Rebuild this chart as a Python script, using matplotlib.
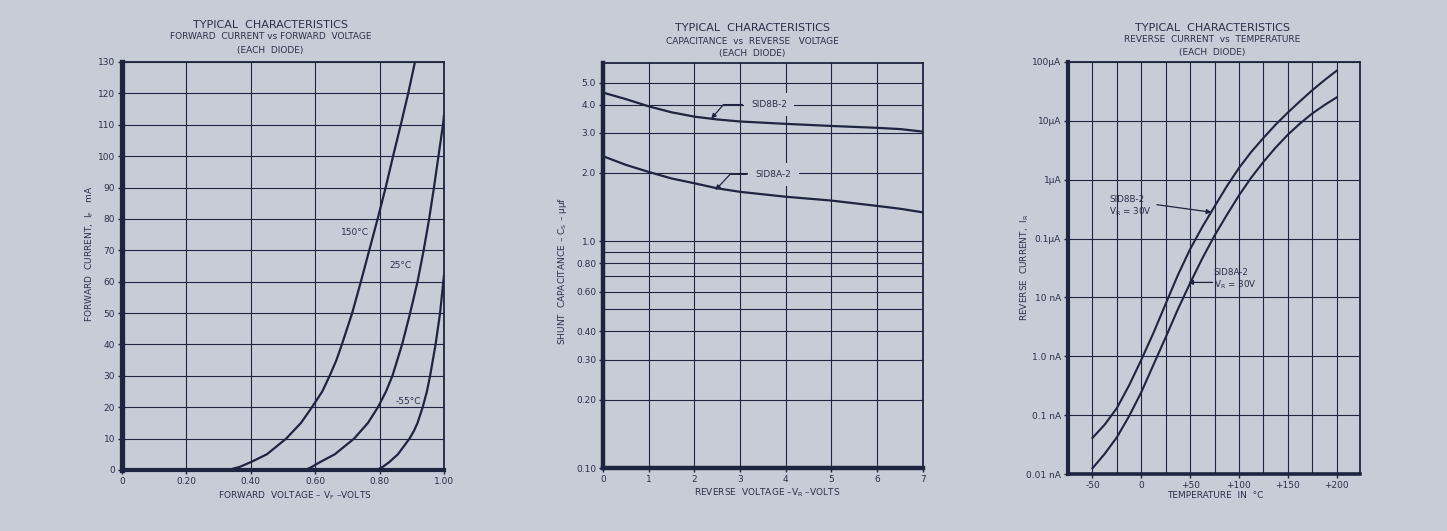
import matplotlib
matplotlib.use("Agg")
import matplotlib.pyplot as plt
from matplotlib.ticker import FixedLocator, NullLocator, NullFormatter


# DATA READ FROM THE SHEET
# DATA READ FROM THE SHEET

# forward current vs forward voltage (volts, mA)
v_150 = [0.33, 0.366, 0.40, 0.45, 0.51, 0.556, 0.59, 0.622, 0.645, 0.666, 0.683, 0.715, 0.742, 0.768, 0.794,
         0.819, 0.842, 0.866, 0.889, 0.91]
i_150 = [0, 1, 2.5, 5, 10, 15, 20, 25, 30, 35, 40, 50, 60, 70, 80, 90, 100, 110, 120, 130]
v_25 = [0.57, 0.59, 0.615, 0.661, 0.721, 0.764, 0.795, 0.82, 0.84, 0.87, 0.895, 0.918, 0.937, 0.954, 0.969,
        0.983, 0.997, 1.0]
i_25 = [0, 1, 2.5, 5, 10, 15, 20, 25, 30, 40, 50, 60, 70, 80, 90, 100, 110, 113]
v_m55 = [0.79, 0.81, 0.83, 0.857, 0.893, 0.907, 0.918, 0.934, 0.947, 0.957, 0.974, 0.988, 0.998, 1.0]
i_m55 = [0, 1, 2.5, 5, 10, 12.5, 15, 20, 25, 30, 40, 50, 60, 62]

fwd_xticks = [0, 0.2, 0.4, 0.6, 0.8, 1.0]
fwd_xlabels = ["0", "0.20", "0.40", "0.60", "0.80", "1.00"]
fwd_yticks = list(range(0, 131, 10))

# capacitance vs reverse voltage (volts, uuf)
cap_v = [0, 0.5, 1, 1.5, 2, 2.5, 3, 4, 5, 6, 6.5, 7]
cap_8b = [4.52, 4.23, 3.93, 3.70, 3.54, 3.44, 3.37, 3.29, 3.22, 3.16, 3.12, 3.04]
cap_8a = [2.37, 2.17, 2.02, 1.89, 1.80, 1.71, 1.65, 1.57, 1.51, 1.43, 1.39, 1.34]

cap_yticks = [0.1, 0.2, 0.3, 0.4, 0.6, 0.8, 1.0, 2.0, 3.0, 4.0, 5.0]
cap_ylabels = ["0.10", "0.20", "0.30", "0.40", "0.60", "0.80", "1.0", "2.0", "3.0", "4.0", "5.0"]
cap_minor = [0.5, 0.7, 0.9]

# reverse current vs temperature (deg C, amps)
temp = [-50, -37.5, -25, -12.5, 0, 12.5, 25, 37.5, 50, 62.5, 75, 87.5, 100, 112.5, 125, 137.5, 150, 162.5, 175, 187.5, 200]
ir_8b = [4.1e-11, 6.9e-11, 1.32e-10, 3.2e-10, 8.7e-10, 2.5e-9, 7.8e-9, 2.4e-8, 6.6e-8, 1.58e-7, 3.5e-7, 7.7e-7,
         1.58e-6, 2.95e-6, 5.1e-6, 8.6e-6, 1.38e-5, 2.15e-5, 3.3e-5, 4.9e-5, 7.1e-5]
ir_8a = [1.25e-11, 2.2e-11, 4.2e-11, 9.6e-11, 2.45e-10, 7.2e-10, 2.1e-9, 6.3e-9, 1.75e-8, 4.6e-8, 1.12e-7, 2.5e-7,
         5.4e-7, 1.08e-6, 2.0e-6, 3.5e-6, 5.8e-6, 9.0e-6, 1.33e-5, 1.85e-5, 2.5e-5]

temp_xticks = [-50, 0, 50, 100, 150, 200]
temp_xlabels = ["-50", "0", "+50", "+100", "+150", "+200"]
temp_grid = [-50, -25, 0, 25, 50, 75, 100, 125, 150, 175, 200]
ir_yticks = [1e-11, 1e-10, 1e-9, 1e-8, 1e-7, 1e-6, 1e-5, 1e-4]
ir_ylabels = ["0.01 nA", "0.1 nA", "1.0 nA", "10 nA", "0.1\u03bcA", "1\u03bcA", "10\u03bcA", "100\u03bcA"]


# STYLE
# STYLE

bg = "#c8ccd7"
ink = "#1f2440"
txt = "#2b304a"

plt.rcParams["font.family"] = ["DejaVu Sans"]
plt.rcParams["mathtext.default"] = "regular"

fig = plt.figure(figsize=(14.47, 5.31), dpi=100, facecolor=bg)


def frame(ax, thick_left=3.2, thick_bottom=3.0):
    ax.set_facecolor(bg)
    for side in ["top", "right"]:
        ax.spines[side].set_linewidth(1.3)
        ax.spines[side].set_color(ink)
    ax.spines["left"].set_linewidth(thick_left)
    ax.spines["bottom"].set_linewidth(thick_bottom)
    ax.spines["left"].set_color(ink)
    ax.spines["bottom"].set_color(ink)
    ax.tick_params(which="major", direction="out", length=3, width=1, color=ink,
                   labelsize=6.5, labelcolor=txt, pad=2)
    ax.tick_params(which="minor", length=0)
    ax.grid(True, which="both", color=ink, lw=0.8)
    ax.set_axisbelow(True)


def titles(xc, ys, sub):
    fig.text(xc, ys[0], "TYPICAL  CHARACTERISTICS", ha="center", va="center", fontsize=8, color=txt)
    fig.text(xc, ys[1], sub, ha="center", va="center", fontsize=6.5, color=txt)
    fig.text(xc, ys[2], "(EACH  DIODE)", ha="center", va="center", fontsize=6.5, color=txt)


# FORWARD CURRENT
# FORWARD CURRENT

ax1 = fig.add_axes([0.0843, 0.1149, 0.2225, 0.7684])
frame(ax1, 3.8, 3.0)
ax1.plot(v_150, i_150, color=ink, lw=1.6, solid_capstyle="round", solid_joinstyle="round")
ax1.plot(v_25, i_25, color=ink, lw=1.6, solid_capstyle="round", solid_joinstyle="round")
ax1.plot(v_m55, i_m55, color=ink, lw=1.6, solid_capstyle="round", solid_joinstyle="round")
ax1.set_xlim(0, 1.0)
ax1.set_ylim(0, 130)
ax1.set_xticks(fwd_xticks)
ax1.set_xticklabels(fwd_xlabels)
ax1.set_yticks(fwd_yticks)
ax1.text(0.724, 75.8, "150\u00b0C", ha="center", va="center", fontsize=6.5, color=txt)
ax1.text(0.865, 65, "25\u00b0C", ha="center", va="center", fontsize=6.5, color=txt)
ax1.text(0.890, 21.7, "-55\u00b0C", ha="center", va="center", fontsize=6.5, color=txt)
ax1.text(-0.099, 0.53, "FORWARD  CURRENT,  I$_F$   mA", transform=ax1.transAxes, rotation=90,
         ha="center", va="center", fontsize=6.5, color=txt)
ax1.text(0.537, -0.064, "FORWARD  VOLTAGE \u2013 V$_F$ \u2013VOLTS", transform=ax1.transAxes,
         ha="center", va="center", fontsize=6.5, color=txt)
titles(0.187, [0.953, 0.932, 0.904], "FORWARD  CURRENT vs FORWARD  VOLTAGE")


# CAPACITANCE
# CAPACITANCE

ax2 = fig.add_axes([0.4167, 0.1186, 0.2211, 0.7627])
ax2.set_yscale("log")
frame(ax2, 3.2, 3.2)
ax2.plot(cap_v, cap_8b, color=ink, lw=1.6, solid_joinstyle="round")
ax2.plot(cap_v, cap_8a, color=ink, lw=1.6, solid_joinstyle="round")
ax2.set_xlim(0, 7)
ax2.set_ylim(0.1, 6.1)
ax2.set_xticks(range(0, 8))
ax2.yaxis.set_major_locator(FixedLocator(cap_yticks))
ax2.yaxis.set_minor_locator(FixedLocator(cap_minor))
ax2.yaxis.set_minor_formatter(NullFormatter())
ax2.set_yticklabels(cap_ylabels)

box = dict(boxstyle="square,pad=0.8", fc=bg, ec="none")
ax2.annotate("SID8B-2", xy=(2.37, 3.47), xytext=(3.24, 4.0), ha="left", va="center",
             fontsize=6.5, color=txt, bbox=box,
             arrowprops=dict(arrowstyle="-|>", color=ink, lw=0.9, mutation_scale=7, shrinkA=1, shrinkB=0,
                             connectionstyle="angle,angleA=0,angleB=49,rad=0"))
ax2.annotate("SID8A-2", xy=(2.46, 1.68), xytext=(3.34, 1.97), ha="left", va="center",
             fontsize=6.5, color=txt, bbox=box,
             arrowprops=dict(arrowstyle="-|>", color=ink, lw=0.9, mutation_scale=7, shrinkA=1, shrinkB=0,
                             connectionstyle="angle,angleA=0,angleB=47,rad=0"))
ax2.text(-0.125, 0.486, "SHUNT  CAPACITANCE \u2013 C$_S$ \u2013 \u03bc\u03bcf", transform=ax2.transAxes,
         rotation=90, ha="center", va="center", fontsize=6.5, color=txt)
ax2.text(0.5125, -0.062, "REVERSE  VOLTAGE \u2013V$_R$ \u2013VOLTS", transform=ax2.transAxes,
         ha="center", va="center", fontsize=6.5, color=txt)
titles(0.52, [0.947, 0.921, 0.900], "CAPACITANCE  vs  REVERSE   VOLTAGE")


# REVERSE CURRENT
# REVERSE CURRENT

ax3 = fig.add_axes([0.7381, 0.1073, 0.2018, 0.776])
ax3.set_yscale("log")
frame(ax3, 3.0, 2.6)
ax3.plot(temp, ir_8b, color=ink, lw=1.5, solid_joinstyle="round")
ax3.plot(temp, ir_8a, color=ink, lw=1.5, solid_joinstyle="round")
ax3.set_xlim(-75, 224)
ax3.set_ylim(1e-11, 1e-4)
ax3.xaxis.set_major_locator(FixedLocator(temp_xticks))
ax3.xaxis.set_minor_locator(FixedLocator(temp_grid))
ax3.set_xticklabels(temp_xlabels)
ax3.yaxis.set_major_locator(FixedLocator(ir_yticks))
ax3.yaxis.set_minor_locator(NullLocator())
ax3.set_yticklabels(ir_ylabels)

ax3.text(-33, 3.5e-7, "SID8B-2\nV$_R$ = 30V", ha="left", va="center", fontsize=6.3, color=txt,
         linespacing=1.2)
ax3.annotate("", xy=(71.9, 2.8e-7), xytext=(16, 3.76e-7),
             arrowprops=dict(arrowstyle="-|>", color=ink, lw=0.9, mutation_scale=7, shrinkA=0, shrinkB=0))
ax3.text(74, 2.0e-8, "SID8A-2\nV$_R$ = 30V", ha="left", va="center", fontsize=6.3, color=txt,
         linespacing=1.2)
ax3.annotate("", xy=(48, 1.8e-8), xytext=(73, 1.8e-8),
             arrowprops=dict(arrowstyle="-|>", color=ink, lw=0.9, mutation_scale=7, shrinkA=0, shrinkB=0))
ax3.text(-0.147, 0.502, "REVERSE  CURRENT,  I$_R$", transform=ax3.transAxes, rotation=90,
         ha="center", va="center", fontsize=6.5, color=txt)
ax3.text(0.503, -0.053, "TEMPERATURE  IN  \u00b0C", transform=ax3.transAxes,
         ha="center", va="center", fontsize=6.5, color=txt)
titles(0.838, [0.947, 0.925, 0.902], "REVERSE  CURRENT  vs  TEMPERATURE")


fig.savefig("out.png", dpi=100, facecolor=bg)
